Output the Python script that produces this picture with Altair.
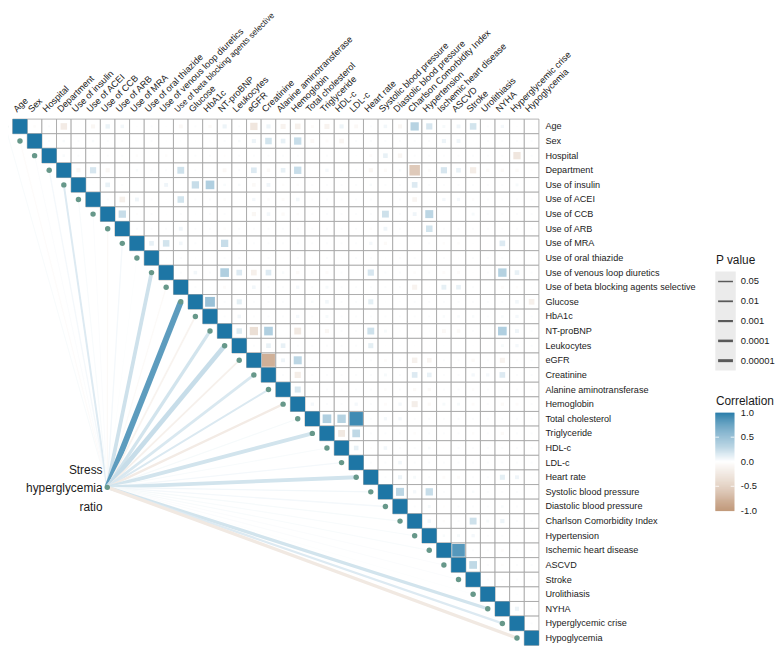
import math
import altair as alt
import pandas as pd

# ---------------- data ----------------
variables = ["Age", "Sex", "Hospital", "Department", "Use of insulin", "Use of ACEI",
             "Use of CCB", "Use of ARB", "Use of MRA", "Use of oral thiazide",
             "Use of venous loop diuretics", "Use of beta blocking agents selective",
             "Glucose", "HbA1c", "NT-proBNP", "Leukocytes", "eGFR", "Creatinine",
             "Alanine aminotransferase", "Hemoglobin", "Total cholesterol", "Triglyceride",
             "HDL-c", "LDL-c", "Heart rate", "Systolic blood pressure",
             "Diastolic blood pressure", "Charlson Comorbidity Index", "Hypertension",
             "Ischemic heart disease", "ASCVD", "Stroke", "Urolithiasis", "NYHA",
             "Hyperglycemic crise", "Hypoglycemia"]

# upper triangle of the correlation matrix: row i holds r(i, j) for j = i+1 .. 35
corr_upper = [
    [-0.03, 0.02, -0.2, 0.01, -0.08, 0.09, 0.06, 0.01, 0.02, 0.01, -0.07, 0.02, -0.05, 0.08, 0.02, -0.25, 0.08, -0.12, -0.15, -0.04, -0.12, 0.08, -0.07, 0.02, 0.06, -0.08, 0.32, 0.18, 0.04, 0.07, 0.2, 0.02, 0.05, 0.01, 0.01],
    [0.02, 0.03, 0.02, 0.03, 0.02, 0.02, 0.01, 0.02, 0.01, 0.01, 0.01, 0.01, 0.02, 0.03, 0.08, 0.2, 0.1, 0.25, -0.07, -0.04, -0.1, 0.02, 0.02, 0.02, 0.02, 0.02, 0.02, 0.08, 0.07, 0.01, 0.02, 0.02, 0.02, 0.02],
    [0.03, 0.02, 0.01, 0.02, 0.02, -0.03, 0.01, -0.03, 0.01, 0.02, 0.02, -0.02, 0.02, 0.02, 0.02, 0.02, 0.02, 0.01, 0.02, 0.01, 0.01, -0.04, 0.1, -0.09, 0.02, 0.02, 0.02, 0.02, 0.02, 0.02, 0.02, -0.25, 0.02],
    [-0.08, 0.18, -0.08, 0.01, 0.03, 0.02, 0.02, 0.22, 0.02, 0.01, -0.07, 0.02, 0.15, -0.06, 0.1, 0.25, 0.01, 0.05, 0.02, 0.02, -0.08, -0.05, 0.03, -0.52, -0.04, 0.18, 0.1, -0.18, -0.05, -0.05, -0.05, -0.02],
    [0.01, 0.1, 0.02, 0.01, 0.01, 0.07, 0.01, 0.25, 0.35, 0.03, 0.03, -0.06, 0.07, -0.03, -0.03, 0.02, 0.02, 0.02, 0.02, 0.03, 0.02, 0.02, 0.15, 0.02, 0.02, 0.02, 0.02, 0.02, 0.02, 0.04, 0.01],
    [0.02, -0.15, 0.07, 0.02, 0.01, 0.2, 0.02, 0.02, -0.03, 0.01, 0.05, -0.03, -0.04, 0.06, 0.02, 0.02, 0.02, 0.02, 0.02, 0.01, 0.02, -0.1, 0.01, 0.05, 0.05, -0.03, 0.02, 0.02, 0.02, 0.02],
    [0.25, -0.02, 0.02, 0.01, 0.02, 0.01, 0.02, 0.02, 0.01, -0.08, 0.06, -0.05, -0.03, 0.02, 0.02, 0.02, 0.02, 0.02, 0.22, 0.02, 0.07, 0.3, 0.01, 0.01, 0.04, 0.02, 0.02, 0.02, 0.02],
    [0.02, 0.02, 0.02, 0.07, 0.02, 0.02, -0.03, 0.02, 0.02, 0.02, 0.02, 0.02, 0.02, 0.02, 0.02, 0.02, -0.03, 0.07, 0.02, 0.01, 0.2, 0.02, 0.02, 0.02, 0.02, 0.02, 0.02, 0.02],
    [0.1, 0.2, 0.06, 0.02, 0.02, 0.25, 0.02, 0.02, 0.02, 0.02, 0.02, 0.02, 0.02, 0.02, 0.02, 0.05, -0.05, 0.01, 0.01, 0.02, -0.03, -0.03, 0.01, 0.01, 0.15, 0.01, 0.01],
    [0.01, 0.02, 0.01, 0.01, 0.02, 0.02, 0.01, 0.02, 0.01, 0.02, 0.01, 0.02, 0.01, 0.02, 0.02, 0.01, 0.02, 0.02, 0.01, 0.02, 0.01, 0.02, 0.02, 0.02, 0.01, 0.01],
    [0.02, 0.06, 0.02, 0.35, 0.15, -0.15, 0.15, 0.03, -0.05, 0.02, -0.04, 0.02, 0.01, 0.18, 0.02, 0.02, -0.03, 0.02, -0.04, -0.04, 0.01, 0.02, 0.33, 0.1, 0.02],
    [0.02, 0.01, -0.04, 0.01, 0.06, 0.02, 0.02, 0.05, 0.02, 0.04, 0.02, 0.02, 0.02, 0.02, 0.02, -0.12, 0.01, 0.11, 0.1, 0.02, 0.01, -0.04, -0.03, 0.01],
    [0.45, 0.02, 0.12, 0.02, 0.02, 0.02, 0.01, 0.03, 0.06, 0.02, 0.02, 0.12, 0.01, 0.01, 0.02, 0.02, 0.02, 0.02, 0.02, 0.02, 0.02, 0.06, -0.15],
    [0.02, 0.06, 0.02, 0.02, 0.02, 0.05, 0.02, 0.04, 0.02, 0.02, 0.02, 0.02, 0.02, 0.02, 0.02, 0.03, 0.03, 0.03, 0.02, 0.03, 0.05, 0.02],
    [0.14, -0.32, 0.35, 0.01, -0.22, -0.03, -0.08, 0.02, 0.02, 0.22, 0.04, 0.01, 0.01, 0.01, -0.07, -0.06, 0.02, 0.01, 0.35, 0.07, 0.02],
    [0.02, 0.1, 0.1, 0.02, 0.02, 0.02, 0.02, 0.02, 0.12, 0.01, 0.01, 0.01, 0.01, 0.01, 0.01, 0.01, 0.01, 0.04, 0.05, 0.02],
    [-0.78, 0.07, 0.3, 0.02, 0.02, 0.02, 0.02, 0.02, -0.04, 0.02, -0.14, -0.1, 0.02, 0.02, -0.05, 0.02, -0.12, 0.02, 0.02],
    [0.02, -0.18, 0.02, 0.02, 0.02, 0.02, 0.02, 0.04, 0.02, 0.15, 0.1, 0.02, 0.02, 0.05, 0.05, 0.15, 0.02, 0.02],
    [0.17, 0.02, 0.02, 0.02, 0.02, 0.02, -0.03, 0.02, -0.05, -0.05, 0.02, 0.02, -0.03, 0.02, 0.02, 0.02, 0.02],
    [0.05, 0.02, 0.02, 0.05, 0.02, -0.04, 0.05, -0.17, -0.05, 0.04, 0.04, -0.04, 0.02, -0.05, -0.04, 0.02],
    [0.35, 0.33, 0.85, 0.02, 0.05, 0.05, 0.02, 0.02, 0.02, 0.02, 0.02, 0.02, 0.02, 0.02, 0.02],
    [-0.22, 0.28, 0.02, 0.02, 0.02, -0.03, 0.02, 0.02, 0.02, -0.03, 0.02, -0.05, 0.02, 0.02],
    [0.1, -0.02, 0.06, 0.02, 0.02, 0.03, 0.01, 0.02, 0.02, 0.02, 0.02, 0.02, 0.02],
    [0.02, 0.02, 0.06, 0.02, 0.02, 0.02, 0.02, 0.02, 0.02, 0.02, 0.02, 0.02],
    [0.02, 0.08, 0.04, 0.02, -0.04, -0.04, 0.02, 0.02, 0.12, 0.07, 0.01],
    [0.3, 0.05, 0.25, 0.02, 0.01, 0.03, 0.02, 0.02, 0.02, 0.01],
    [0.02, 0.04, -0.02, 0.02, 0.02, 0.02, 0.03, 0.02, 0.01],
    [0.06, -0.03, 0.02, 0.22, 0.04, 0.08, 0.02, 0.02],
    [0.03, 0.04, 0.05, 0.02, 0.02, 0.01, 0.01],
    [0.75, 0.02, 0.02, -0.04, 0.02, 0.02],
    [0.28, 0.02, -0.03, 0.02, 0.02],
    [0.02, 0.02, 0.02, 0.02],
    [0.01, 0.01, 0.01],
    [0.08, 0.02],
    [0.02],
]

# correlation of Stress hyperglycemia ratio with each variable, and its P value
shr_r = [0.03, -0.04, 0.02, 0.05, 0.15, 0.03, 0.02, -0.06, 0.05, 0.01, 0.22, -0.05,
         0.72, -0.12, 0.2, 0.25, -0.15, 0.17, 0.16, -0.2, 0.04, 0.2, 0.03, 0.05,
         0.2, 0.06, 0.05, 0.04, 0.03, 0.03, 0.02, 0.02, 0.01, 0.2, 0.15, -0.22]
shr_p = [0.5, 0.3, 0.6, 0.1, 0.003, 0.4, 0.6, 0.15, 0.1, 0.8, 1e-7, 0.2,
         1e-12, 0.01, 2e-6, 6e-10, 0.02, 5e-5, 0.003, 5e-4, 0.3, 1e-7, 0.4, 0.2,
         1e-7, 0.06, 0.1, 0.2, 0.4, 0.4, 0.5, 0.5, 0.7, 2e-6, 5e-4, 2e-6]
shr_label_lines = ["Stress", "hyperglycemia", "ratio"]

p_breaks = [0.05, 0.01, 0.001, 0.0001, 0.00001]
p_break_labels = ["0.05", "0.01", "0.001", "0.0001", "0.00001"]
corr_breaks = [1.0, 0.5, 0.0, -0.5, -1.0]
corr_break_labels = ["1.0", "0.5", "0.0", "-0.5", "-1.0"]

n = len(variables)
assert len(corr_upper) == n - 1
for i, row in enumerate(corr_upper):
    assert len(row) == n - 1 - i, (i, len(row))

# ---------------- layout ----------------
W, H = 776, 643
CELL = 14.77
X0, Y0 = 12.1, 116.3          # chart-pixel centre of cell (0, 0)
FONT = "Liberation Sans"
TXT = "#1a1a1a"
LONGEST = max(variables, key=len)


def ux(px):   # page pixel -> column units
    return (px - 8 - X0) / CELL


def uy(py):   # page pixel -> row units
    return (py - 8 - Y0) / CELL


xs = alt.Scale(domain=[-X0 / CELL, (W - X0) / CELL], nice=False, zero=False)
ys = alt.Scale(domain=[-Y0 / CELL, (H - Y0) / CELL], nice=False, zero=False, reverse=True)
cscale = alt.Scale(domain=[-1, 0, 1], range=["#c19a7b", "#ffffff", "#1e76a5"], interpolate="rgb")
wscale = alt.Scale(domain=[1.3, 5], range=[1.5, 3.0])

X = lambda f: alt.X(f, type="quantitative", scale=xs, axis=None)
Y = lambda f: alt.Y(f, type="quantitative", scale=ys, axis=None)

# grid cells (upper triangle incl. diagonal)
grid_rows, sq_rows = [], []
for i in range(n):
    for j in range(i, n):
        grid_rows.append({"x0": j - 0.5, "x1": j + 0.5, "y0": i - 0.5, "y1": i + 0.5})
    sq_rows.append({"i": i, "j": i, "r": 1.0, "absr": 1.0})
for i, row in enumerate(corr_upper):
    for k, r in enumerate(row):
        sq_rows.append({"i": i, "j": i + 1 + k, "r": r, "absr": abs(r)})
grid_df = pd.DataFrame(grid_rows)
sq_df = pd.DataFrame(sq_rows)

SX, SY = ux(108.3), uy(489.0)
link_df = pd.DataFrame({
    "sx": [SX] * n, "sy": [SY] * n,
    "tx": [i - 1 for i in range(n)], "ty": list(range(n)),
    "r": shr_r, "nlp": [-math.log10(p) for p in shr_p],
})
dot_df = pd.DataFrame({"x": [i - 1 for i in range(n)] + [SX], "y": list(range(n)) + [SY]})

links = alt.Chart(link_df).mark_rule(strokeCap="butt").encode(
    x=X("sx"), y=Y("sy"), x2="tx:Q", y2="ty:Q",
    color=alt.Color("r:Q", scale=cscale, legend=None),
    strokeWidth=alt.StrokeWidth("nlp:Q", scale=wscale, legend=None),
)
grid = alt.Chart(grid_df).mark_rect(fill="white", stroke="#a0a0a0", strokeWidth=0.8).encode(
    x=X("x0"), x2="x1:Q", y=Y("y0"), y2="y1:Q")
squares = alt.Chart(sq_df).mark_square(opacity=1, strokeWidth=0).encode(
    x=X("j"), y=Y("i"),
    color=alt.Color("r:Q", scale=cscale, legend=None),
    size=alt.Size("absr:Q", scale=alt.Scale(domain=[0, 1], range=[0, CELL * CELL]), legend=None),
)
dots = alt.Chart(dot_df).mark_circle(size=30, color="#67988a", opacity=1).encode(x=X("x"), y=Y("y"))

col_df = pd.DataFrame({"name": variables, "lx": [j - 0.2 for j in range(n)], "ly": [uy(110.5)] * n})
col_labels = alt.Chart(col_df).mark_text(angle=315, align="left", baseline="alphabetic",
                                         font=FONT, color=TXT).encode(
    x=X("lx"), y=Y("ly"), text="name:N",
    size=alt.condition(alt.datum.name == LONGEST, alt.value(8.4), alt.value(9.2)))
row_df = pd.DataFrame({"name": variables, "lx": [ux(551.0)] * n, "ly": list(range(n))})
row_labels = alt.Chart(row_df).mark_text(align="left", baseline="middle",
                                         font=FONT, fontSize=9.2, color=TXT).encode(
    x=X("lx"), y=Y("ly"), text="name:N")
shr_df = pd.DataFrame({"t": shr_label_lines, "lx": [ux(103.5)] * 3,
                       "ly": [uy(471.0), uy(490.0), uy(509.0)]})
shr_text = alt.Chart(shr_df).mark_text(align="right", baseline="middle", font=FONT,
                                       fontSize=12, color=TXT).encode(
    x=X("lx"), y=Y("ly"), text="t:N")

# ---- P value legend ----
LX0, LX1 = 722.7, 743.3
key_y = [281.0 + 20.0 * k for k in range(len(p_breaks))]
pbox_df = pd.DataFrame({"x0": [ux(LX0)], "x1": [ux(LX1)], "y0": [uy(271.0)], "y1": [uy(371.0)]})
pbox = alt.Chart(pbox_df).mark_rect(fill="#ebebeb").encode(x=X("x0"), x2="x1:Q", y=Y("y0"), y2="y1:Q")
pkey_df = pd.DataFrame({"x0": [ux(725.5)] * 5, "x1": [ux(740.5)] * 5, "y": [uy(v) for v in key_y],
                        "nlp": [-math.log10(p) for p in p_breaks], "lab": p_break_labels,
                        "lx": [ux(748.3)] * 5})
pkeys = alt.Chart(pkey_df).mark_rule(color="#595959", strokeCap="butt").encode(
    x=X("x0"), x2="x1:Q", y=Y("y"),
    strokeWidth=alt.StrokeWidth("nlp:Q", scale=wscale, legend=None))
plabels = alt.Chart(pkey_df).mark_text(align="left", baseline="middle", font=FONT, fontSize=9.5,
                                       color=TXT).encode(x=X("lx"), y=Y("y"), text="lab:N")

# ---- Correlation legend ----
GT, GB = 413.5, 512.7
gy = lambda v: (GT + GB) / 2 - v * (GB - GT) / 2
NG = 100
grad_rows = []
for k in range(NG):
    v0 = 1 - 2 * k / NG
    v1 = 1 - 2 * (k + 1) / NG
    grad_rows.append({"x0": ux(722.7), "x1": ux(742.0), "y0": uy(gy(v0)), "y1": uy(gy(v1)) + 0.02,
                      "v": (v0 + v1) / 2})
grad = alt.Chart(pd.DataFrame(grad_rows)).mark_rect().encode(
    x=X("x0"), x2="x1:Q", y=Y("y0"), y2="y1:Q",
    color=alt.Color("v:Q", scale=cscale, legend=None))
tick_rows = []
for v in corr_breaks[1:-1]:
    tick_rows.append({"x0": ux(722.7), "x1": ux(726.5), "y": uy(gy(v))})
    tick_rows.append({"x0": ux(738.2), "x1": ux(742.0), "y": uy(gy(v))})
cticks = alt.Chart(pd.DataFrame(tick_rows)).mark_rule(color="white", strokeWidth=0.8).encode(
    x=X("x0"), x2="x1:Q", y=Y("y"))
clab_df = pd.DataFrame({"lab": corr_break_labels, "lx": [ux(748.5)] * 5,
                        "y": [uy(gy(v)) for v in corr_breaks]})
clabels = alt.Chart(clab_df).mark_text(align="left", baseline="middle", font=FONT, fontSize=9.5,
                                       color=TXT).encode(x=X("lx"), y=Y("y"), text="lab:N")

title_df = pd.DataFrame({"t": ["P value", "Correlation"], "lx": [ux(723.3)] * 2,
                         "y": [uy(259.5), uy(401.8)]})
titles = alt.Chart(title_df).mark_text(align="left", baseline="middle", font=FONT, fontSize=12,
                                       color=TXT).encode(x=X("lx"), y=Y("y"), text="t:N")

chart = alt.layer(
    links, grid, squares, dots, col_labels, row_labels, shr_text,
    pbox, pkeys, plabels, grad, cticks, clabels, titles,
).properties(
    width=W, height=H, autosize=alt.AutoSizeParams(type="none"), padding=0,
    background="white",
).configure_view(strokeWidth=0)

chart.save("out.html", embed_options={"renderer": "svg", "actions": False})
